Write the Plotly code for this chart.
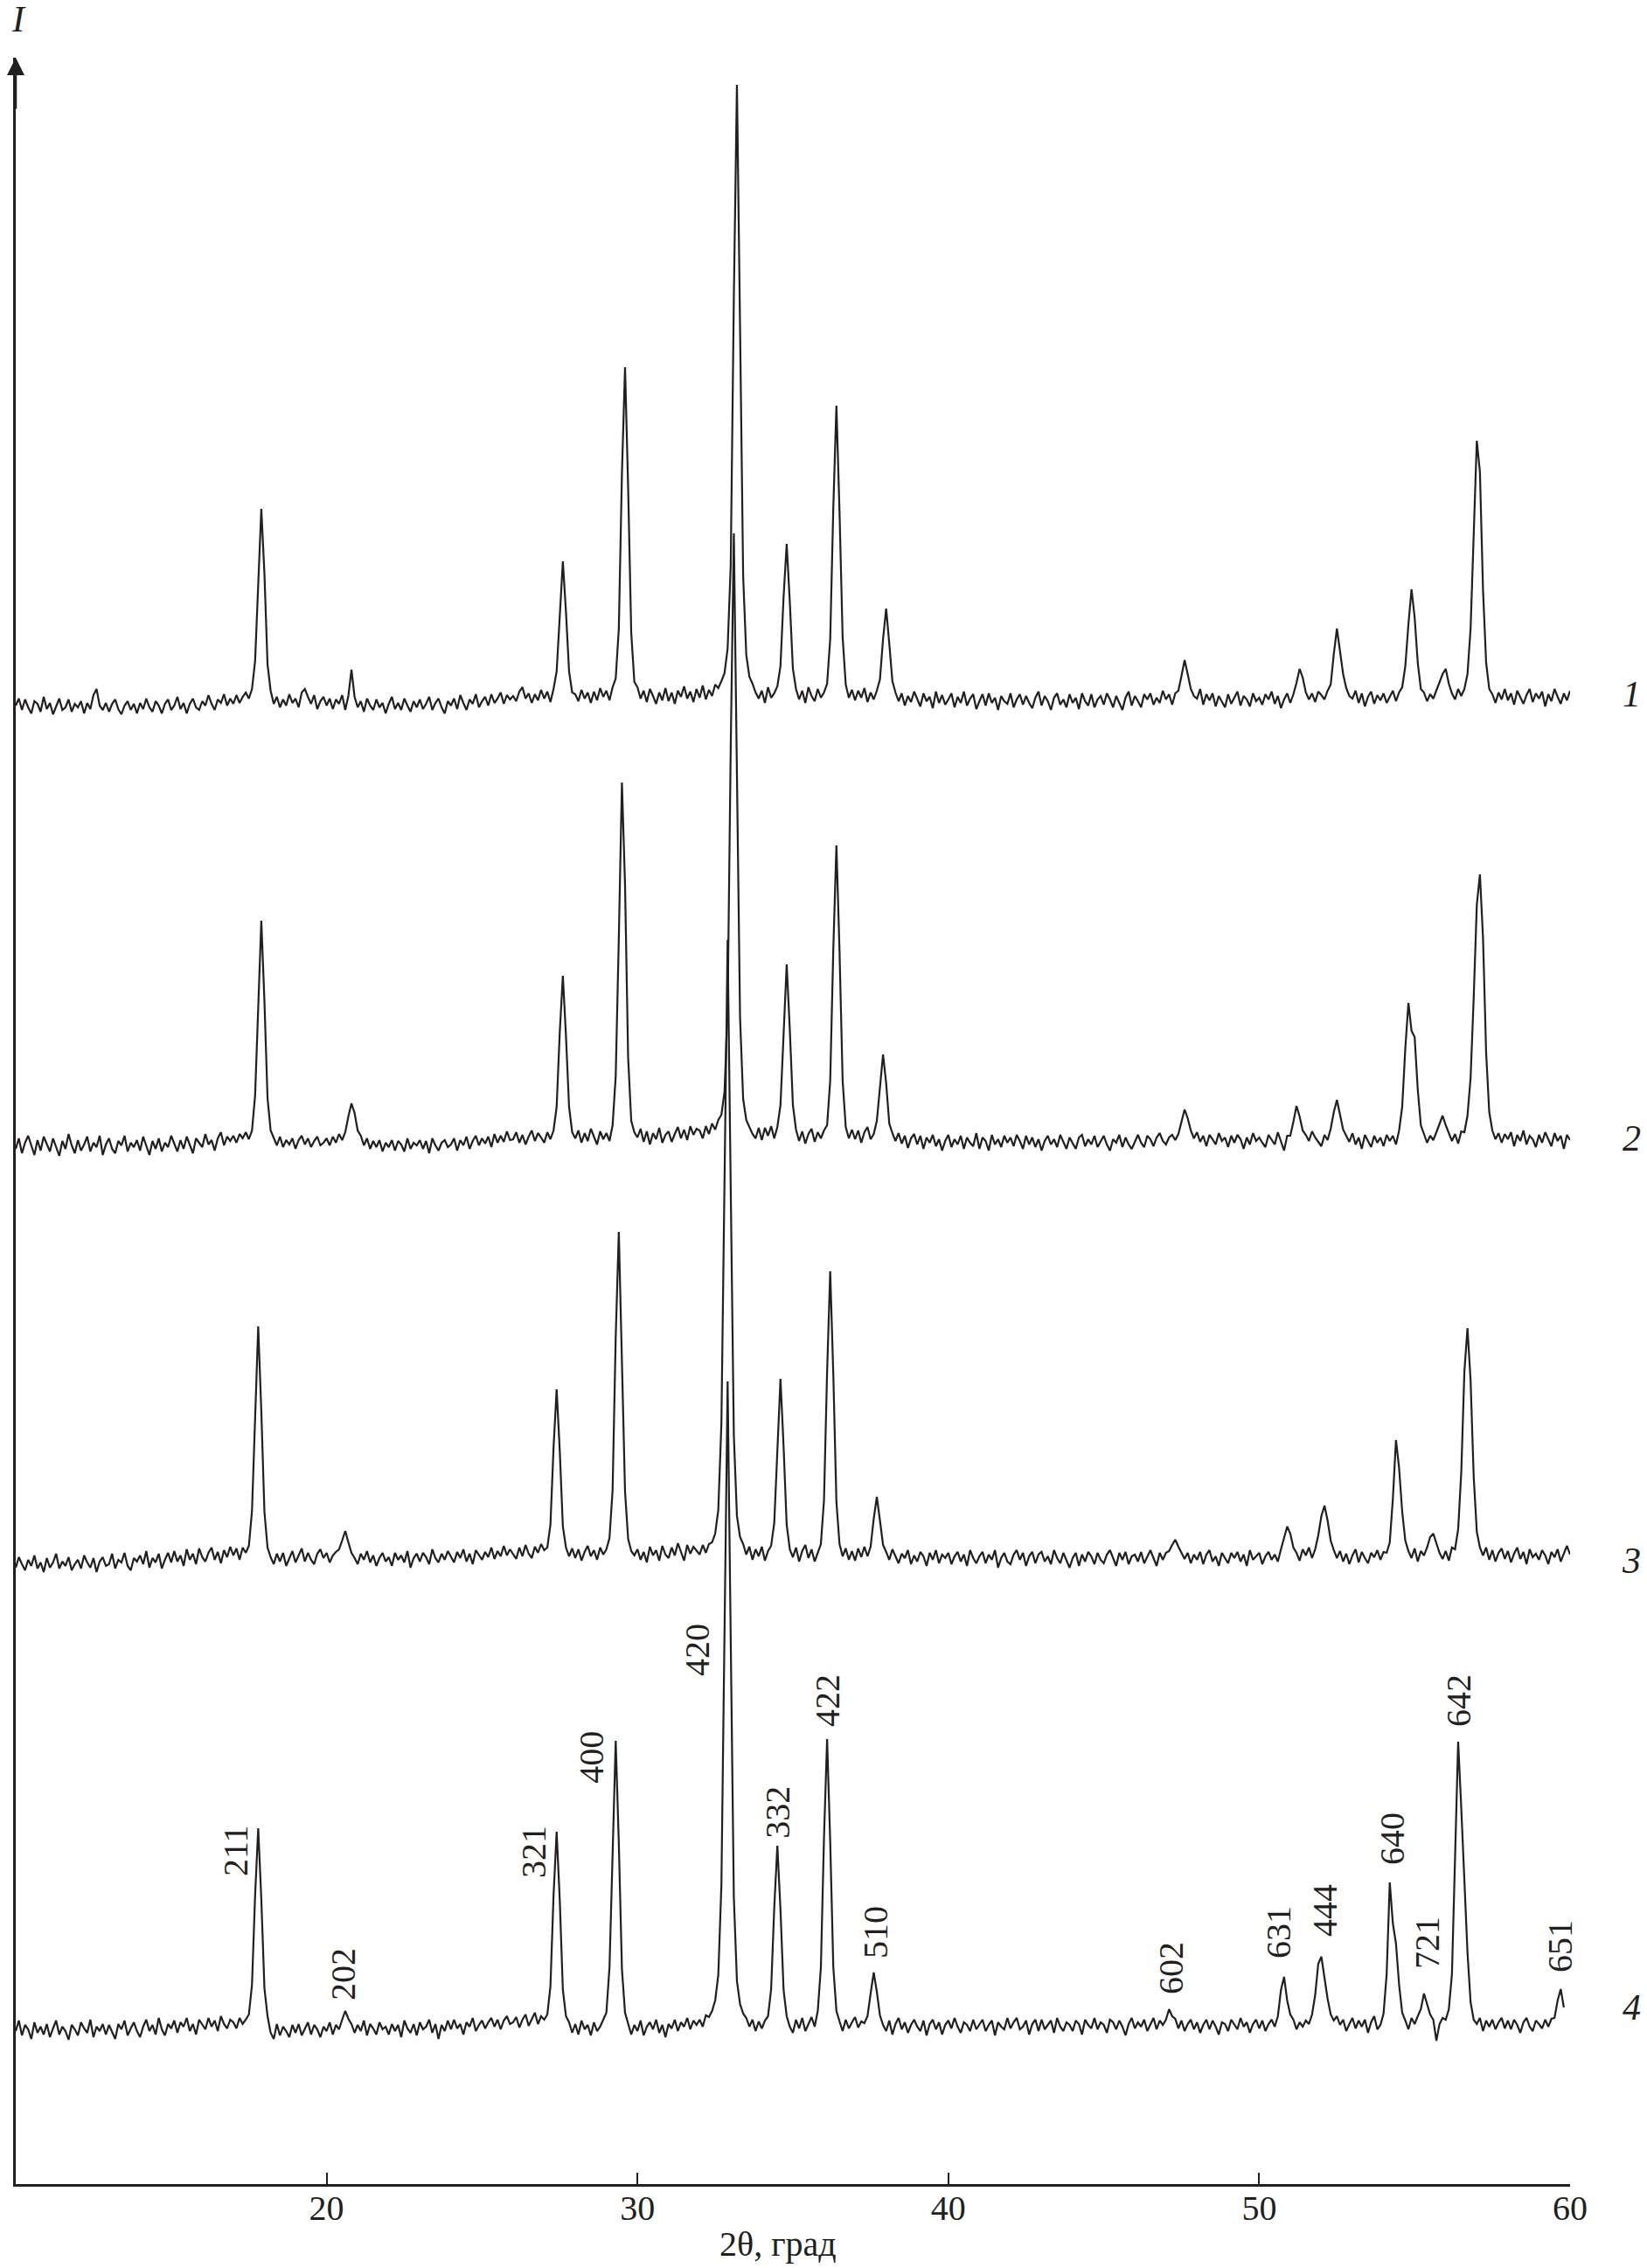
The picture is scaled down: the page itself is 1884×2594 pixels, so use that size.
import plotly.graph_objects as go

INK = "#231f20"
FONT = "Liberation Serif"

# ---- data: intensity (arb. units) on a 0.1-degree grid, one row per degree (10.0 .. 10.9, 11.0 ...) ----
FIRST_DEG = 10
STEP = 0.1

C1_ROWS = [
    [-5, 3, -10, 2, -7, -14, 0, -3, -12, 5],
    [-9, -2, -15, -5, 3, -10, -7, 2, -12, -3],
    [-7, 0, -14, -2, -9, 7, 14, -5, -10, -2],
    [-12, -3, 2, -9, -15, -5, 0, -10, -3, -14],
    [-2, -9, 3, -7, -12, 0, -5, -14, -3, 2],
    [-10, -5, 5, -9, -2, -14, -3, 3, -7, -10],
    [0, -5, 7, -3, -10, 2, -2, 8, -5, 3],
    [-3, 7, -2, 5, 10, 3, 14, 46, 142, 220],
    [146, 42, 12, -3, 5, -7, 2, -5, 8, -2],
    [3, -7, 10, 14, 5, -3, 7, -9, 0, 5],
    [-5, 3, -9, 2, -3, 7, -10, 6, 36, 5],
    [-7, 0, -12, 3, -5, -10, 2, -7, -2, -14],
    [-3, 5, -9, -2, -10, 3, -5, -12, 0, -7],
    [2, -9, -3, 5, -10, -2, 3, -7, -14, 0],
    [-5, 3, -9, 7, -2, -10, 2, -3, 8, -7],
    [0, 5, -5, 8, -2, 3, 10, -3, 7, 2],
    [6, 0, 11, 16, 3, 9, -2, 8, 1, 13],
    [3, 11, -1, 14, 34, 104, 160, 102, 34, 10],
    [8, 0, 13, 3, 10, -2, 11, 1, 15, 5],
    [12, 1, 16, 26, 83, 260, 382, 244, 78, 22],
    [16, 3, 12, -1, 14, 6, -3, 10, 1, 15],
    [0, 10, -3, 12, 5, 17, 3, 11, -1, 14],
    [4, 18, 2, 13, 6, 19, 15, 23, 32, 60],
    [156, 462, 705, 427, 143, 53, 28, 20, 10, 3],
    [12, -2, 16, 4, 9, 17, 40, 119, 180, 114],
    [37, 14, 2, 12, -2, 16, 6, 0, 14, 4],
    [10, 20, 71, 222, 338, 216, 73, 19, 4, 13],
    [1, 12, 4, 15, -1, 10, 2, 12, 25, 71],
    [106, 66, 23, 10, 0, 9, -5, 6, -1, 11],
    [3, -6, 9, 0, 5, -8, 11, -2, 7, -4],
    [2, 9, -7, 5, -2, 11, -5, 3, 8, -9],
    [0, 8, -5, 9, -2, 4, -10, 6, 0, -3],
    [9, -7, 2, 8, -4, 6, -2, -8, 4, 11],
    [-5, 6, 0, -10, 4, 9, -4, 2, -7, 8],
    [-2, 4, -9, 9, 0, -5, 8, -7, 2, 6],
    [-4, 9, 2, -7, 6, -2, -10, 4, 11, -5],
    [6, 0, -7, 8, 2, 9, -4, 4, -2, 12],
    [2, 8, -4, 9, 12, 29, 47, 31, 14, 6],
    [3, 14, -4, 8, 1, 9, -6, 6, 0, -7],
    [8, -3, 4, 11, -5, 6, 2, -6, 9, 0],
    [4, -4, 8, 2, 11, -3, 6, -8, 2, 9],
    [-2, 8, 21, 37, 27, 10, 2, 9, -1, 11],
    [7, 2, 12, 19, 54, 83, 57, 31, 15, 6],
    [3, 12, -2, 9, -6, 5, 11, -3, 7, 1],
    [9, -2, 5, 12, 0, 10, 16, 40, 88, 128],
    [96, 44, 14, 10, 0, 8, 3, 12, 22, 31],
    [37, 20, 9, 2, 14, 6, 14, 31, 83, 203],
    [298, 262, 127, 44, 14, 8, -2, 10, 2, 14],
    [1, 9, -4, 12, 5, -3, 7, 14, -1, 9],
    [3, 11, -6, 8, 0, 14, 5, -3, 9, 1],
    [12],
]

C2_ROWS = [
    [-7, 5, -12, 0, 8, -3, -14, 3, -9, 7],
    [-2, -10, 5, -5, -15, 2, -7, 10, -3, -12],
    [3, -9, -2, 7, -10, 0, -5, 8, -14, -2],
    [5, -7, -12, 2, -3, 8, -10, 0, -5, 3],
    [-9, 7, -3, -14, 2, -7, 5, -10, 0, -5],
    [8, -2, -10, 3, -7, 7, -3, -12, 5, 0],
    [-5, 10, -2, 3, -9, 5, 12, -3, 7, 2],
    [8, 0, 10, 5, 12, 4, 14, 54, 165, 254],
    [162, 51, 14, 5, -3, 7, -5, 3, -2, 5],
    [-7, 3, 8, -2, 5, -5, 2, 7, -3, 0],
    [5, -3, 7, 0, 10, 3, 12, 30, 45, 34],
    [14, 8, -3, 5, -7, 2, -5, 3, -10, 0],
    [-5, 3, -9, 2, -2, -10, 5, -7, 0, -3],
    [3, -7, 2, -12, 5, -3, -9, 0, 3, -5],
    [-2, 5, -9, 3, -3, 7, -7, 2, 8, -3],
    [5, -1, 7, -5, 10, 0, 8, 1, 13, 3],
    [4, 12, 0, 9, -2, 7, 14, 2, 11, 6],
    [0, 12, 4, 14, 41, 126, 191, 122, 41, 12],
    [5, 14, 0, 11, 2, 16, 6, -2, 13, 4],
    [11, 2, 20, 76, 234, 412, 295, 97, 25, 12],
    [6, 16, 1, 13, -2, 11, 4, 17, 0, 9],
    [13, 1, 10, 18, 5, 15, 3, 19, 9, 16],
    [14, 5, 19, 10, 22, 15, 26, 32, 58, 153],
    [453, 697, 421, 143, 50, 26, 18, 10, 5, 17],
    [3, 17, 8, 19, 5, 18, 43, 132, 204, 130],
    [43, 15, 2, 13, -1, 10, 16, 1, 12, 5],
    [14, 20, 71, 222, 340, 219, 71, 18, 5, 15],
    [4, 14, 0, 12, 18, 4, 10, 25, 67, 101],
    [68, 22, 11, 2, 11, -1, 8, -6, 5, 10],
    [-2, 8, -7, 6, 0, 9, -4, 4, -9, 2],
    [9, -5, 4, -2, 8, -7, 6, 0, -4, 11],
    [-7, 6, 2, -9, 9, -2, 4, -5, 8, 0],
    [6, -4, 9, 2, -7, 8, -2, 6, -5, 4],
    [-9, 2, 8, -2, 4, -5, 9, 0, -7, 6],
    [0, -7, 6, 9, -4, 4, -2, 8, -5, 2],
    [8, -2, -9, 4, 0, 9, -5, 6, -2, -7],
    [2, 9, 0, -5, 8, 4, -4, 6, 11, 2],
    [-2, 6, 9, 3, 10, 24, 38, 28, 14, 5],
    [12, 1, 8, -4, 9, 4, -2, 11, 2, 6],
    [-5, 8, 0, 9, 4, -7, 6, -2, 11, 2],
    [6, 0, -5, 9, 4, -2, 12, 2, -9, 8],
    [8, 24, 42, 30, 14, 9, 2, 13, 6, 1],
    [-4, 9, 3, 16, 35, 49, 32, 15, 8, 1],
    [11, -2, 6, -7, 9, 2, -5, 8, 0, 6],
    [-4, 9, 2, 8, -2, 14, 41, 108, 160, 128],
    [121, 61, 20, 10, 0, 8, 3, 12, 22, 31],
    [20, 10, 2, 10, -1, 13, 12, 31, 74, 166],
    [272, 307, 234, 103, 35, 14, 4, 11, 0, 10],
    [4, 12, -4, 9, 2, 14, -2, 8, 4, -5],
    [9, 0, 12, 4, -4, 11, 2, 8, -7, 9],
    [3],
]

C3_ROWS = [
    [-9, 3, -5, -12, 0, -7, 5, -10, -3, -14],
    [2, -9, -3, 7, -10, -2, -7, 3, -12, -5],
    [0, -10, 5, -3, -9, 2, -14, -2, 3, -7],
    [-5, 7, -10, 0, -3, 8, -7, -12, 2, -2],
    [5, -5, 10, -9, 2, -3, 7, -10, 0, 8],
    [-3, 10, -2, 5, -7, 12, 0, 7, -5, 13],
    [3, -2, 8, 14, 0, 9, -4, 11, 3, 15],
    [5, 13, 0, 14, 8, 16, 56, 172, 267, 170],
    [55, 14, 3, -5, 7, -2, 8, -7, 2, 10],
    [-3, 5, 13, -2, 8, 0, -5, 7, 12, 2],
    [8, -3, 5, 9, 12, 22, 33, 20, 8, 2],
    [-5, 7, 0, 10, -3, 5, -7, 2, 8, -2],
    [3, -7, 8, 0, 5, -3, 10, -9, 2, 7],
    [-2, 8, 3, -5, 12, 2, -3, 7, 0, 10],
    [4, -3, 9, 2, 12, -2, 7, -5, 11, 5],
    [0, 9, 3, 14, 1, 10, 4, 16, 5, 12],
    [7, 1, 14, 4, 17, 7, 2, 15, 8, 18],
    [11, 14, 40, 128, 195, 125, 38, 14, 4, 13],
    [2, 12, -1, 9, 16, 4, 11, 0, 14, 6],
    [12, 25, 80, 255, 375, 240, 78, 24, 10, 5],
    [12, 0, 9, -3, 15, 5, 11, -1, 16, 6],
    [2, 14, 5, 19, 9, -1, 17, 7, 15, 10],
    [6, 17, 8, 18, 20, 30, 57, 156, 460, 709],
    [425, 142, 50, 26, 18, 6, 15, 0, 12, 4],
    [15, -1, 10, 16, 42, 134, 207, 130, 40, 12],
    [3, 14, -2, 10, 17, 2, 12, -2, 8, 18],
    [68, 215, 330, 212, 66, 18, 4, 13, 0, 10],
    [-1, 13, 3, 15, 4, 15, 47, 72, 45, 17],
    [9, 0, 12, 3, -4, 7, 2, 11, -5, 5],
    [-2, 9, 4, -7, 8, 0, 11, -4, 6, 2],
    [8, -5, 4, 9, -2, 6, -7, 11, 2, -4],
    [4, 9, -4, 6, 0, 11, -9, 2, 8, -2],
    [-5, 6, 11, 0, 8, -7, 4, 9, -4, 6],
    [9, -2, 4, -5, 11, 2, -4, 8, 0, -9],
    [2, 8, -7, 6, -2, 9, 4, -5, 8, 0],
    [-4, 6, 11, 2, -7, 8, 0, 9, -5, 4],
    [6, -2, 9, -4, 4, 11, 2, -7, 8, 0],
    [8, 10, 17, 23, 15, 8, 1, 8, -4, 6],
    [0, 9, -5, 6, 11, -2, 4, -7, 8, 2],
    [-4, 8, 2, 9, -2, 6, -7, 11, 0, 4],
    [8, -5, 4, 9, 0, 6, -2, 12, 26, 38],
    [30, 14, 8, -1, 12, 5, 14, 2, 12, 28],
    [50, 62, 45, 22, 11, 2, 10, -2, 7, -5],
    [5, 12, -3, 9, 2, -4, 8, 3, 11, 0],
    [9, 8, 20, 70, 137, 105, 55, 22, 10, 2],
    [13, -2, 10, 5, 14, 26, 30, 20, 8, 1],
    [10, -1, 14, 12, 35, 100, 215, 265, 205, 95],
    [32, 14, 5, 14, 0, 11, -2, 8, 13, 1],
    [10, -3, 7, 14, 1, 9, -5, 12, 3, 7],
    [0, 11, 5, -5, 9, 3, 12, -2, 7, 16],
    [6],
]

C4_ROWS = [
    [-5, 7, -10, 2, -3, -14, 5, -7, 0, -9],
    [3, -12, -2, 7, -9, 0, -5, -15, 2, -3],
    [-10, 5, -2, -7, 8, -12, 0, -5, 3, -9],
    [2, -7, -14, 3, -3, 7, -10, -2, 5, -5],
    [-12, 0, 8, -5, 2, -9, 10, -3, -10, 3],
    [-2, 7, -7, 5, 0, 10, -5, 3, -9, 8],
    [2, -3, 10, 0, 7, -5, 12, 3, -2, 8],
    [5, -2, 10, 3, 8, 14, 48, 150, 227, 146],
    [44, 12, -7, -14, 3, -10, 0, -5, -12, 2],
    [-7, 3, -10, -2, 5, -9, 2, -3, -12, 0],
    [-5, 5, -9, 2, -3, 8, 18, 9, 3, -7],
    [2, -5, 7, -10, 3, -2, -9, 5, -3, 0],
    [-9, 3, -5, 2, -12, 7, -2, -7, 3, -10],
    [5, -3, 0, 8, -7, 3, -14, 2, -5, 7],
    [-3, 8, -2, 3, -9, 5, 0, 10, -5, 2],
    [7, -2, 5, 10, 0, 8, -3, 7, 12, 3],
    [5, 11, -1, 8, 14, 1, 9, 16, 3, 12],
    [8, 14, 46, 150, 223, 145, 42, 12, 5, -7],
    [3, -9, 7, -3, 2, -10, 5, -5, 0, 8],
    [16, 68, 212, 327, 210, 66, 16, 3, -9, 2],
    [-5, 7, -10, 0, 5, -3, 8, -7, 2, -12],
    [3, -2, 8, -5, 5, 0, 10, -3, 7, 2],
    [8, 0, 13, 11, 18, 30, 59, 162, 480, 738],
    [443, 148, 52, 26, 15, 10, 0, 8, -5, 6],
    [-2, 7, 12, 43, 136, 207, 134, 42, 12, 0],
    [-7, 8, -2, 10, -5, 4, 11, 0, 18, 68],
    [216, 329, 212, 68, 18, 6, -5, 8, -2, 5],
    [11, -1, 6, 4, 12, 38, 62, 40, 13, 2],
    [-5, 7, -9, 3, 10, -3, 5, -7, 2, 8],
    [0, -5, 7, -10, 3, 8, -3, 5, -9, 2],
    [7, -2, 10, 0, -7, 5, 2, -5, 8, -3],
    [3, 8, -5, 2, 7, -10, 5, 0, -3, 10],
    [-2, 5, 10, -3, 0, 7, -9, 3, 8, -5],
    [8, -3, 2, 7, -7, 10, 0, -5, 5, 2],
    [-5, 7, 3, -9, 8, 2, -2, 10, -3, 5],
    [2, -7, 8, 5, -3, 7, 0, -10, 3, 10],
    [-2, 5, 0, 8, -5, 3, 10, -3, 7, 2],
    [8, 20, 12, 9, -2, 7, -5, 3, 8, -3],
    [5, -7, 2, 8, -3, 7, 0, -9, 5, 3],
    [-5, 8, 2, -3, 10, 0, 5, -7, 3, 8],
    [-2, 7, -5, 3, 8, 0, 12, 42, 57, 30],
    [14, 8, -3, 5, 0, 7, 3, 14, 36, 72],
    [80, 55, 32, 14, 7, 12, 2, 8, -5, 3],
    [10, -2, 7, 0, 8, -7, 5, 12, -3, 2],
    [15, 60, 165, 118, 95, 48, 16, 7, -3, 10],
    [3, 12, 20, 38, 26, 14, 8, -16, 3, 10],
    [8, 20, 60, 190, 326, 250, 175, 85, 28, 8],
    [3, 10, -5, 7, 0, 8, -3, 5, 10, -2],
    [7, -3, 8, 2, -7, 5, 10, 0, -5, 7],
    [3, -2, 8, 0, 9, 10, 30, 43, 22],
]

CURVE_NAMES = ["1", "2", "3", "4"]
CURVE_ROWS = [C1_ROWS, C2_ROWS, C3_ROWS, C4_ROWS]
CURVE_OFFSETS = [1696, 1191, 714, 180]      # vertical stacking of the patterns
CURVE_LABEL_Y = [1704, 1196, 713, 202]

HKL_TEXT = ["211", "202", "321", "400", "420", "332", "422", "510",
            "602", "631", "444", "640", "721", "642", "651"]
HKL_THETA = [17.06, 20.52, 26.65, 28.50, 31.91, 34.49, 36.10, 37.64,
             47.15, 50.61, 52.10, 54.26, 55.39, 56.40, 59.66]
HKL_Y = [381, 240, 380, 488, 611, 425, 553, 288,
         247, 288, 313, 395, 276, 553, 272]

X_RANGE = [10, 60]
X_TICKS = [10, 20, 30, 40, 50, 60]
Y_RANGE = [0, 2432]
X_TITLE = "2θ, град"

fig = go.Figure()

for name, rows, off in zip(CURVE_NAMES, CURVE_ROWS, CURVE_OFFSETS):
    xs, ys = [], []
    for k, row in enumerate(rows):
        for j, v in enumerate(row):
            xs.append(round(FIRST_DEG + k + STEP * j, 2))
            ys.append(v + off)
    fig.add_trace(go.Scatter(
        x=xs, y=ys, mode="lines", name=name,
        line=dict(color=INK, width=2.2, shape="linear"),
        hoverinfo="skip", showlegend=False,
    ))

annotations = []
for t, x, y in zip(HKL_TEXT, HKL_THETA, HKL_Y):
    annotations.append(dict(
        x=x, y=y, xref="x", yref="y", text=t, showarrow=False, textangle=-90,
        font=dict(family=FONT, size=40, color=INK),
        xanchor="center", yanchor="middle",
    ))

for name, y in zip(CURVE_NAMES, CURVE_LABEL_Y):
    annotations.append(dict(
        x=1.0394, y=y, xref="paper", yref="y", text="<i>" + name + "</i>",
        showarrow=False, font=dict(family=FONT, size=42, color=INK),
        xanchor="center", yanchor="middle",
    ))

# y-axis arrow and label
annotations.append(dict(
    x=X_RANGE[0], y=Y_RANGE[1], xref="x", yref="y", text="",
    showarrow=True, arrowhead=2, arrowsize=1.6, arrowwidth=2.5, arrowcolor=INK,
    ax=0, ay=60, axref="pixel", ayref="pixel",
))
annotations.append(dict(
    x=0.002, y=1.0181, xref="paper", yref="paper", text="<i>I</i>",
    showarrow=False, font=dict(family=FONT, size=42, color=INK),
    xanchor="center", yanchor="middle",
))
# x-axis title
annotations.append(dict(
    x=0.4904, y=-0.028, xref="paper", yref="paper", text=X_TITLE,
    showarrow=False, font=dict(family=FONT, size=40, color=INK),
    xanchor="center", yanchor="middle",
))

fig.update_layout(
    width=1884, height=2594,
    margin=dict(l=18, r=88, t=66, b=96),
    paper_bgcolor="white", plot_bgcolor="white",
    showlegend=False,
    annotations=annotations,
    xaxis=dict(
        range=X_RANGE, tickvals=X_TICKS, ticktext=[str(v) for v in X_TICKS],
        ticks="inside", ticklen=13, tickwidth=2, tickcolor=INK,
        showline=True, linewidth=3, linecolor=INK,
        showgrid=False, zeroline=False,
        tickfont=dict(family=FONT, size=40, color=INK),
        ticklabelstandoff=-10,
        automargin=False,
    ),
    yaxis=dict(
        range=Y_RANGE, showline=True, linewidth=2.5, linecolor=INK,
        showticklabels=False, ticks="", showgrid=False, zeroline=False,
        automargin=False,
    ),
)

fig.write_html(
    "out.html",
    config={"displayModeBar": False},
    post_script="document.body.style.margin='0';document.body.style.overflow='hidden';",
)
